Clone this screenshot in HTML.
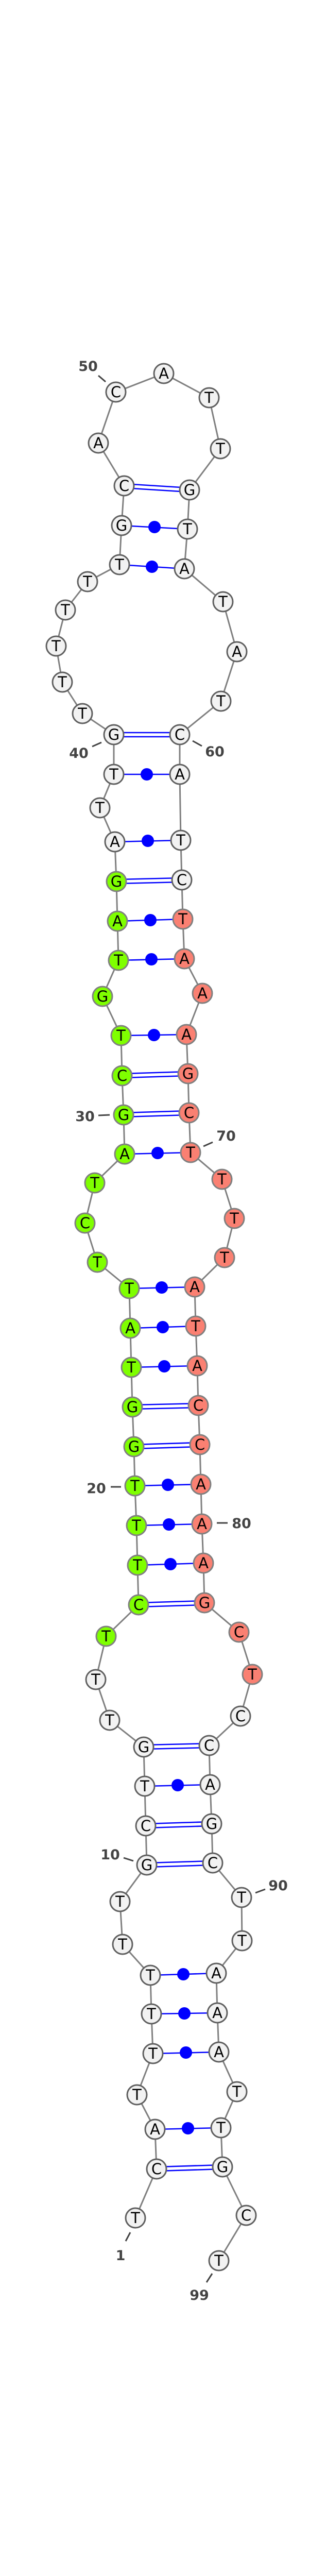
<!DOCTYPE html>
<html><head><meta charset="utf-8"><style>
html,body{margin:0;padding:0;background:#fff;width:600px;height:5132px;overflow:hidden}
svg{display:block}
.bb{fill:none;stroke:#808080;stroke-width:3}
.p{stroke:#0000ff;stroke-width:2.5}
.d{fill:#0000ff}
.n circle{stroke-width:3}
.w{fill:#f2f2f2;stroke:#606060}
.g{fill:#7fff00;stroke:#808080}
.s{fill:#fa8072;stroke:#808080}
.n text{font-family:"DejaVu Sans","Liberation Sans",sans-serif;font-size:29px;text-anchor:middle;fill:#000}
.l{font-family:"DejaVu Sans","Liberation Sans",sans-serif;font-size:27px;font-weight:bold;fill:#444;text-anchor:middle}
.t{stroke:#444;stroke-width:3}
</style></head><body>
<svg width="600" height="5132" viewBox="0 0 600 5132" xmlns="http://www.w3.org/2000/svg">
<polyline class="bb" points="263,4305 304,4210 301,4133 266,4066 297,3986 294,3909 292,3834 238,3774 233,3691 285,3620 283,3544 281,3467 279,3391 213,3339 186,3260 206,3176 269,3115 267,3038 265,2961 262,2884 260,2808 257,2731 255,2654 253,2578 251,2501 189,2450 165,2374 184,2296 242,2240 240,2164 237,2088 235,2010 199,1934 230,1864 228,1788 226,1711 223,1634 194,1568 221,1503 221,1426 160,1385 121,1324 109,1254 127,1184 170,1129 232,1096 236,1020 241,943 191,860 225,761 318,725 406,772 428,871 368,951 364,1027 358,1104 433,1168 460,1265 429,1361 349,1426 349,1503 351,1631 353,1708 355,1784 358,1861 393,1928 362,2008 365,2084 367,2160 370,2237 431,2289 455,2365 436,2441 378,2498 380,2574 383,2651 385,2728 388,2804 390,2881 392,2958 395,3034 397,3111 464,3168 490,3250 467,3331 406,3388 408,3464 411,3540 413,3616 469,3683 470,3767 420,3830 422,3907 425,3983 460,4060 429,4130 432,4206 478,4300 425,4388"/>
<g class="p">
<line x1="304" y1="4206" x2="432" y2="4202"/><line x1="304" y1="4214" x2="432" y2="4210"/>
<line x1="285" y1="3616" x2="413" y2="3612"/><line x1="285" y1="3624" x2="413" y2="3620"/>
<line x1="283" y1="3540" x2="411" y2="3536"/><line x1="283" y1="3548" x2="411" y2="3544"/>
<line x1="279" y1="3387" x2="406" y2="3384"/><line x1="279" y1="3395" x2="406" y2="3392"/>
<line x1="269" y1="3111" x2="397" y2="3107"/><line x1="269" y1="3119" x2="397" y2="3115"/>
<line x1="260" y1="2804" x2="388" y2="2800"/><line x1="260" y1="2812" x2="388" y2="2808"/>
<line x1="257" y1="2727" x2="385" y2="2724"/><line x1="257" y1="2735" x2="385" y2="2732"/>
<line x1="240" y1="2160" x2="367" y2="2156"/><line x1="240" y1="2168" x2="367" y2="2164"/>
<line x1="237" y1="2084" x2="365" y2="2080"/><line x1="237" y1="2092" x2="365" y2="2088"/>
<line x1="226" y1="1707" x2="353" y2="1704"/><line x1="226" y1="1715" x2="353" y2="1712"/>
<line x1="221" y1="1422" x2="349" y2="1422"/><line x1="221" y1="1430" x2="349" y2="1430"/>
<line x1="241" y1="939" x2="368" y2="947"/><line x1="241" y1="947" x2="368" y2="955"/>
<line x1="301" y1="4133" x2="429" y2="4130"/>
<line x1="297" y1="3986" x2="425" y2="3983"/>
<line x1="294" y1="3909" x2="422" y2="3907"/>
<line x1="292" y1="3834" x2="420" y2="3830"/>
<line x1="281" y1="3467" x2="408" y2="3464"/>
<line x1="267" y1="3038" x2="395" y2="3034"/>
<line x1="265" y1="2961" x2="392" y2="2958"/>
<line x1="262" y1="2884" x2="390" y2="2881"/>
<line x1="255" y1="2654" x2="383" y2="2651"/>
<line x1="253" y1="2578" x2="380" y2="2574"/>
<line x1="251" y1="2501" x2="378" y2="2498"/>
<line x1="242" y1="2240" x2="370" y2="2237"/>
<line x1="235" y1="2010" x2="362" y2="2008"/>
<line x1="230" y1="1864" x2="358" y2="1861"/>
<line x1="228" y1="1788" x2="355" y2="1784"/>
<line x1="223" y1="1634" x2="351" y2="1631"/>
<line x1="221" y1="1503" x2="349" y2="1503"/>
<line x1="232" y1="1096" x2="358" y2="1104"/>
<line x1="236" y1="1020" x2="364" y2="1027"/>
</g>
<g class="d">
<circle cx="365" cy="4131" r="12"/><circle cx="361" cy="3984" r="12"/><circle cx="358" cy="3908" r="12"/><circle cx="356" cy="3832" r="12"/>
<circle cx="345" cy="3465" r="12"/><circle cx="331" cy="3036" r="12"/><circle cx="328" cy="2959" r="12"/><circle cx="326" cy="2882" r="12"/>
<circle cx="319" cy="2652" r="12"/><circle cx="316" cy="2576" r="12"/><circle cx="314" cy="2499" r="12"/><circle cx="306" cy="2238" r="12"/>
<circle cx="299" cy="2009" r="12"/><circle cx="294" cy="1862" r="12"/><circle cx="292" cy="1786" r="12"/><circle cx="287" cy="1632" r="12"/>
<circle cx="285" cy="1503" r="12"/><circle cx="295" cy="1100" r="12"/><circle cx="300" cy="1023" r="12"/>
</g>
<g class="n">
<circle class="w" cx="263" cy="4305" r="19"/><text x="263" y="4315">T</text>
<circle class="w" cx="304" cy="4210" r="19"/><text x="304" y="4220">C</text>
<circle class="w" cx="301" cy="4133" r="19"/><text x="301" y="4143">A</text>
<circle class="w" cx="266" cy="4066" r="19"/><text x="266" y="4076">T</text>
<circle class="w" cx="297" cy="3986" r="19"/><text x="297" y="3996">T</text>
<circle class="w" cx="294" cy="3909" r="19"/><text x="294" y="3919">T</text>
<circle class="w" cx="292" cy="3834" r="19"/><text x="292" y="3844">T</text>
<circle class="w" cx="238" cy="3774" r="19"/><text x="238" y="3784">T</text>
<circle class="w" cx="233" cy="3691" r="19"/><text x="233" y="3701">T</text>
<circle class="w" cx="285" cy="3620" r="19"/><text x="285" y="3630">G</text>
<circle class="w" cx="283" cy="3544" r="19"/><text x="283" y="3554">C</text>
<circle class="w" cx="281" cy="3467" r="19"/><text x="281" y="3477">T</text>
<circle class="w" cx="279" cy="3391" r="19"/><text x="279" y="3401">G</text>
<circle class="w" cx="213" cy="3339" r="19"/><text x="213" y="3349">T</text>
<circle class="w" cx="186" cy="3260" r="19"/><text x="186" y="3270">T</text>
<circle class="g" cx="206" cy="3176" r="19"/><text x="206" y="3186">T</text>
<circle class="g" cx="269" cy="3115" r="19"/><text x="269" y="3125">C</text>
<circle class="g" cx="267" cy="3038" r="19"/><text x="267" y="3048">T</text>
<circle class="g" cx="265" cy="2961" r="19"/><text x="265" y="2971">T</text>
<circle class="g" cx="262" cy="2884" r="19"/><text x="262" y="2894">T</text>
<circle class="g" cx="260" cy="2808" r="19"/><text x="260" y="2818">G</text>
<circle class="g" cx="257" cy="2731" r="19"/><text x="257" y="2741">G</text>
<circle class="g" cx="255" cy="2654" r="19"/><text x="255" y="2664">T</text>
<circle class="g" cx="253" cy="2578" r="19"/><text x="253" y="2588">A</text>
<circle class="g" cx="251" cy="2501" r="19"/><text x="251" y="2511">T</text>
<circle class="g" cx="189" cy="2450" r="19"/><text x="189" y="2460">T</text>
<circle class="g" cx="165" cy="2374" r="19"/><text x="165" y="2384">C</text>
<circle class="g" cx="184" cy="2296" r="19"/><text x="184" y="2306">T</text>
<circle class="g" cx="242" cy="2240" r="19"/><text x="242" y="2250">A</text>
<circle class="g" cx="240" cy="2164" r="19"/><text x="240" y="2174">G</text>
<circle class="g" cx="237" cy="2088" r="19"/><text x="237" y="2098">C</text>
<circle class="g" cx="235" cy="2010" r="19"/><text x="235" y="2020">T</text>
<circle class="g" cx="199" cy="1934" r="19"/><text x="199" y="1944">G</text>
<circle class="g" cx="230" cy="1864" r="19"/><text x="230" y="1874">T</text>
<circle class="g" cx="228" cy="1788" r="19"/><text x="228" y="1798">A</text>
<circle class="g" cx="226" cy="1711" r="19"/><text x="226" y="1721">G</text>
<circle class="w" cx="223" cy="1634" r="19"/><text x="223" y="1644">A</text>
<circle class="w" cx="194" cy="1568" r="19"/><text x="194" y="1578">T</text>
<circle class="w" cx="221" cy="1503" r="19"/><text x="221" y="1513">T</text>
<circle class="w" cx="221" cy="1426" r="19"/><text x="221" y="1436">G</text>
<circle class="w" cx="160" cy="1385" r="19"/><text x="160" y="1395">T</text>
<circle class="w" cx="121" cy="1324" r="19"/><text x="121" y="1334">T</text>
<circle class="w" cx="109" cy="1254" r="19"/><text x="109" y="1264">T</text>
<circle class="w" cx="127" cy="1184" r="19"/><text x="127" y="1194">T</text>
<circle class="w" cx="170" cy="1129" r="19"/><text x="170" y="1139">T</text>
<circle class="w" cx="232" cy="1096" r="19"/><text x="232" y="1106">T</text>
<circle class="w" cx="236" cy="1020" r="19"/><text x="236" y="1030">G</text>
<circle class="w" cx="241" cy="943" r="19"/><text x="241" y="953">C</text>
<circle class="w" cx="191" cy="860" r="19"/><text x="191" y="870">A</text>
<circle class="w" cx="225" cy="761" r="19"/><text x="225" y="771">C</text>
<circle class="w" cx="318" cy="725" r="19"/><text x="318" y="735">A</text>
<circle class="w" cx="406" cy="772" r="19"/><text x="406" y="782">T</text>
<circle class="w" cx="428" cy="871" r="19"/><text x="428" y="881">T</text>
<circle class="w" cx="368" cy="951" r="19"/><text x="368" y="961">G</text>
<circle class="w" cx="364" cy="1027" r="19"/><text x="364" y="1037">T</text>
<circle class="w" cx="358" cy="1104" r="19"/><text x="358" y="1114">A</text>
<circle class="w" cx="433" cy="1168" r="19"/><text x="433" y="1178">T</text>
<circle class="w" cx="460" cy="1265" r="19"/><text x="460" y="1275">A</text>
<circle class="w" cx="429" cy="1361" r="19"/><text x="429" y="1371">T</text>
<circle class="w" cx="349" cy="1426" r="19"/><text x="349" y="1436">C</text>
<circle class="w" cx="349" cy="1503" r="19"/><text x="349" y="1513">A</text>
<circle class="w" cx="351" cy="1631" r="19"/><text x="351" y="1641">T</text>
<circle class="w" cx="353" cy="1708" r="19"/><text x="353" y="1718">C</text>
<circle class="s" cx="355" cy="1784" r="19"/><text x="355" y="1794">T</text>
<circle class="s" cx="358" cy="1861" r="19"/><text x="358" y="1871">A</text>
<circle class="s" cx="393" cy="1928" r="19"/><text x="393" y="1938">A</text>
<circle class="s" cx="362" cy="2008" r="19"/><text x="362" y="2018">A</text>
<circle class="s" cx="365" cy="2084" r="19"/><text x="365" y="2094">G</text>
<circle class="s" cx="367" cy="2160" r="19"/><text x="367" y="2170">C</text>
<circle class="s" cx="370" cy="2237" r="19"/><text x="370" y="2247">T</text>
<circle class="s" cx="431" cy="2289" r="19"/><text x="431" y="2299">T</text>
<circle class="s" cx="455" cy="2365" r="19"/><text x="455" y="2375">T</text>
<circle class="s" cx="436" cy="2441" r="19"/><text x="436" y="2451">T</text>
<circle class="s" cx="378" cy="2498" r="19"/><text x="378" y="2508">A</text>
<circle class="s" cx="380" cy="2574" r="19"/><text x="380" y="2584">T</text>
<circle class="s" cx="383" cy="2651" r="19"/><text x="383" y="2661">A</text>
<circle class="s" cx="385" cy="2728" r="19"/><text x="385" y="2738">C</text>
<circle class="s" cx="388" cy="2804" r="19"/><text x="388" y="2814">C</text>
<circle class="s" cx="390" cy="2881" r="19"/><text x="390" y="2891">A</text>
<circle class="s" cx="392" cy="2958" r="19"/><text x="392" y="2968">A</text>
<circle class="s" cx="395" cy="3034" r="19"/><text x="395" y="3044">A</text>
<circle class="s" cx="397" cy="3111" r="19"/><text x="397" y="3121">G</text>
<circle class="s" cx="464" cy="3168" r="19"/><text x="464" y="3178">C</text>
<circle class="s" cx="490" cy="3250" r="19"/><text x="490" y="3260">T</text>
<circle class="w" cx="467" cy="3331" r="19"/><text x="467" y="3341">C</text>
<circle class="w" cx="406" cy="3388" r="19"/><text x="406" y="3398">C</text>
<circle class="w" cx="408" cy="3464" r="19"/><text x="408" y="3474">A</text>
<circle class="w" cx="411" cy="3540" r="19"/><text x="411" y="3550">G</text>
<circle class="w" cx="413" cy="3616" r="19"/><text x="413" y="3626">C</text>
<circle class="w" cx="469" cy="3683" r="19"/><text x="469" y="3693">T</text>
<circle class="w" cx="470" cy="3767" r="19"/><text x="470" y="3777">T</text>
<circle class="w" cx="420" cy="3830" r="19"/><text x="420" y="3840">A</text>
<circle class="w" cx="422" cy="3907" r="19"/><text x="422" y="3917">A</text>
<circle class="w" cx="425" cy="3983" r="19"/><text x="425" y="3993">A</text>
<circle class="w" cx="460" cy="4060" r="19"/><text x="460" y="4070">T</text>
<circle class="w" cx="429" cy="4130" r="19"/><text x="429" y="4140">T</text>
<circle class="w" cx="432" cy="4206" r="19"/><text x="432" y="4216">G</text>
<circle class="w" cx="478" cy="4300" r="19"/><text x="478" y="4310">C</text>
<circle class="w" cx="425" cy="4388" r="19"/><text x="425" y="4398">T</text>
</g>
<g>
<line class="t" x1="191" y1="729" x2="205" y2="741"/><text class="l" x="171" y="720">50</text>
<line class="t" x1="179" y1="1449" x2="197" y2="1441"/><text class="l" x="153" y="1471">40</text>
<line class="t" x1="374" y1="1438" x2="392" y2="1448"/><text class="l" x="417" y="1468">60</text>
<line class="t" x1="191" y1="2165" x2="213" y2="2164"/><text class="l" x="165" y="2176">30</text>
<line class="t" x1="395" y1="2225" x2="413" y2="2217"/><text class="l" x="439" y="2214">70</text>
<line class="t" x1="215" y1="2886" x2="235" y2="2886"/><text class="l" x="187" y="2898">20</text>
<line class="t" x1="421" y1="2956" x2="442" y2="2956"/><text class="l" x="469" y="2966">80</text>
<line class="t" x1="240" y1="3606" x2="259" y2="3612"/><text class="l" x="214" y="3609">10</text>
<line class="t" x1="496" y1="3674" x2="515" y2="3667"/><text class="l" x="540" y="3669">90</text>
<line class="t" x1="253" y1="4333" x2="244" y2="4350"/><text class="l" x="234" y="4387">1</text>
<line class="t" x1="412" y1="4413" x2="401" y2="4430"/><text class="l" x="387" y="4464">99</text>
</g>
<text x="300" y="5123" font-family="DejaVu Sans,Liberation Sans,sans-serif" font-size="10" font-weight="bold" text-anchor="middle" fill="#000">dwi-mir-9c-2_annot [-28.3]</text>
</svg>
</body></html>
